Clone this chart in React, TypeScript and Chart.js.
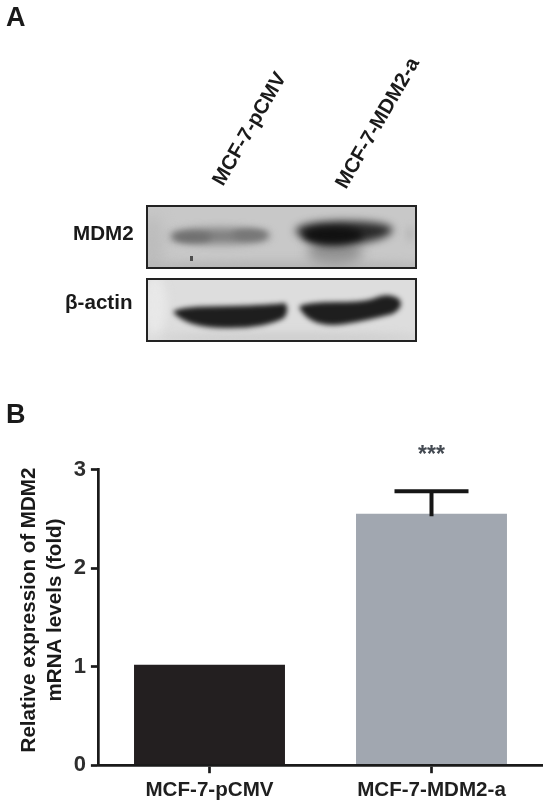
import React, { useEffect, useRef } from "react";
import { Chart, registerables } from "chart.js";

Chart.register(...registerables);

const categories = ["MCF-7-pCMV", "MCF-7-MDM2-a"];
const meanValues = [1.02, 2.55];
const errorTops = [1.02, 2.78];
const barColors = ["#231f20", "#a1a7b0"];
const yTicks = [0, 1, 2, 3];
const yTitleLines = ["Relative expression of MDM2", "mRNA levels (fold)"];
const significance = "***";
const FONT = '"Liberation Sans", Arial, sans-serif';

function blob(ctx: CanvasRenderingContext2D, x: number, y: number, rx: number, ry: number, color: string, blur: number) {
  ctx.save();
  ctx.filter = `blur(${blur}px)`;
  ctx.fillStyle = color;
  ctx.beginPath();
  ctx.ellipse(x, y, rx, ry, 0, 0, Math.PI * 2);
  ctx.fill();
  ctx.restore();
}

function shape(ctx: CanvasRenderingContext2D, color: string, blur: number, draw: (c: CanvasRenderingContext2D) => void) {
  ctx.save();
  ctx.filter = `blur(${blur}px)`;
  ctx.fillStyle = color;
  ctx.beginPath();
  draw(ctx);
  ctx.closePath();
  ctx.fill();
  ctx.restore();
}

function rotatedLabel(ctx: CanvasRenderingContext2D, text: string, x: number, y: number) {
  ctx.save();
  ctx.translate(x, y);
  ctx.rotate((-60 * Math.PI) / 180);
  ctx.textAlign = "left";
  ctx.textBaseline = "alphabetic";
  ctx.fillText(text, 0, 0);
  ctx.restore();
}

const panelPlugin = {
  id: "panelA",
  beforeDraw(chart: any) {
    const ctx: CanvasRenderingContext2D = chart.ctx;
    ctx.save();
    ctx.fillStyle = "#1a1a1a";
    ctx.font = `bold 27px ${FONT}`;
    ctx.textBaseline = "alphabetic";
    ctx.fillText("A", 6, 26);
    ctx.fillText("B", 6, 423);
    ctx.font = `bold 20.6px ${FONT}`;
    ctx.fillText("MDM2", 73, 240);
    ctx.fillText("β-actin", 65, 309);
    ctx.font = `bold 20.4px ${FONT}`;
    rotatedLabel(ctx, categories[0], 223, 187);
    rotatedLabel(ctx, categories[1], 346, 190);

    // MDM2 blot
    ctx.save();
    ctx.beginPath();
    ctx.rect(147, 206, 269, 62);
    ctx.clip();
    ctx.fillStyle = "#c8c8c8";
    ctx.fillRect(147, 206, 269, 62);
    blob(ctx, 152, 245, 12, 30, "#bcbcbc", 7);
    blob(ctx, 285, 267, 160, 6, "#b4b4b4", 4);
    blob(ctx, 220, 236, 50, 8, "#808080", 4);
    blob(ctx, 192, 237, 20, 5.5, "#6f6f6f", 3);
    blob(ctx, 250, 235, 18, 5.5, "#767676", 3);
    blob(ctx, 335, 252, 28, 12, "#939393", 6);
    shape(ctx, "#2a2a2a", 4, (c) => {
      c.moveTo(295, 231);
      c.quadraticCurveTo(298, 222, 340, 221);
      c.quadraticCurveTo(388, 221, 393, 229);
      c.quadraticCurveTo(390, 240, 352, 244);
      c.quadraticCurveTo(312, 251, 295, 231);
    });
    blob(ctx, 333, 235, 30, 8, "#111111", 3.5);
    blob(ctx, 410, 234, 5, 8, "#bbbbbb", 3);
    ctx.fillStyle = "#4d4d4d";
    ctx.filter = "blur(0.6px)";
    ctx.fillRect(190, 256, 3, 5);
    ctx.restore();

    // actin blot
    ctx.save();
    ctx.beginPath();
    ctx.rect(147, 279, 269, 62);
    ctx.clip();
    ctx.fillStyle = "#dddddd";
    ctx.fillRect(147, 279, 269, 62);
    blob(ctx, 155, 305, 12, 30, "#e8e8e8", 5);
    blob(ctx, 290, 338, 130, 5, "#cdcdcd", 4);
    shape(ctx, "#1e1e1e", 2.8, (c) => {
      c.moveTo(173, 312);
      c.quadraticCurveTo(178, 306, 230, 306);
      c.quadraticCurveTo(272, 305, 285, 303);
      c.quadraticCurveTo(290, 310, 284, 318);
      c.quadraticCurveTo(265, 328, 230, 328);
      c.quadraticCurveTo(188, 329, 173, 312);
    });
    shape(ctx, "#1e1e1e", 2.8, (c) => {
      c.moveTo(299, 307);
      c.quadraticCurveTo(304, 302, 340, 302);
      c.quadraticCurveTo(365, 302, 375, 298);
      c.quadraticCurveTo(388, 292, 399, 299);
      c.quadraticCurveTo(405, 307, 392, 314);
      c.quadraticCurveTo(365, 321, 345, 324);
      c.quadraticCurveTo(310, 329, 299, 307);
    });
    ctx.restore();

    ctx.strokeStyle = "#222";
    ctx.lineWidth = 2;
    ctx.strokeRect(147, 206, 269, 62);
    ctx.strokeRect(147, 279, 269, 62);

    // y axis title lines
    ctx.fillStyle = "#1a1a1a";
    ctx.font = `bold 20.6px ${FONT}`;
    ctx.textAlign = "center";
    ctx.textBaseline = "middle";
    yTitleLines.forEach((line, i) => {
      ctx.save();
      ctx.translate(29.5 + i * 26, 610);
      ctx.rotate(-Math.PI / 2);
      ctx.fillText(line, 0, 0);
      ctx.restore();
    });
    ctx.restore();
  },
  afterDatasetsDraw(chart: any) {
    const ctx: CanvasRenderingContext2D = chart.ctx;
    const { x, y } = chart.scales;
    ctx.save();
    ctx.strokeStyle = "#161616";
    ctx.lineWidth = 4;
    meanValues.forEach((v, i) => {
      if (errorTops[i] <= v) return;
      const cx = x.getPixelForValue(i);
      ctx.beginPath();
      ctx.moveTo(cx, y.getPixelForValue(v) + 2.5);
      ctx.lineTo(cx, y.getPixelForValue(errorTops[i]));
      ctx.moveTo(cx - 37, y.getPixelForValue(errorTops[i]));
      ctx.lineTo(cx + 37, y.getPixelForValue(errorTops[i]));
      ctx.stroke();
      ctx.fillStyle = "#444a52";
      ctx.font = `bold 23px ${FONT}`;
      ctx.textAlign = "center";
      ctx.textBaseline = "alphabetic";
      ctx.fillText(significance, cx, y.getPixelForValue(errorTops[i]) - 29);
    });
    ctx.restore();
  },
};

export default function App() {
  const ref = useRef<HTMLCanvasElement>(null);
  useEffect(() => {
    document.body.style.margin = "0";
    const chart = new Chart(ref.current!, {
      type: "bar",
      data: {
        labels: categories,
        datasets: [
          {
            data: meanValues,
            backgroundColor: barColors,
            barPercentage: 0.68,
            categoryPercentage: 1,
          },
        ],
      },
      options: {
        responsive: false,
        animation: false,
        layout: { padding: { top: 469.5, right: 1.5, left: 0, bottom: 0 } },
        plugins: { legend: { display: false }, title: { display: false }, tooltip: { enabled: false } },
        scales: {
          x: {
            afterFit: (s: any) => { s.height = 40.8; },
            grid: { offset: false, drawOnChartArea: false, tickLength: 8, tickWidth: 2.7, tickColor: "#1a1a1a", z: 1 },
            border: { color: "#1a1a1a", width: 2.7, z: 1 },
            ticks: { color: "#1f1f1f", font: { family: FONT, size: 20.6, weight: "bold" }, padding: 5, maxRotation: 0, autoSkip: false },
          },
          y: {
            min: 0,
            max: 3,
            afterFit: (s: any) => { s.width = 98.5; },
            afterBuildTicks: (s: any) => { s.ticks = yTicks.map((value) => ({ value })); },
            grid: { drawOnChartArea: false, tickLength: 7.6, tickWidth: 2.7, tickColor: "#1a1a1a", z: 1 },
            border: { color: "#1a1a1a", width: 2.7, z: 1 },
            ticks: { color: "#2e2e2e", font: { family: FONT, size: 22, weight: "bold" }, padding: 5 },
          },
        },
      },
      plugins: [panelPlugin],
    } as any);
    return () => chart.destroy();
  }, []);
  return <canvas ref={ref} width={544} height={806} style={{ display: "block" }} />;
}
